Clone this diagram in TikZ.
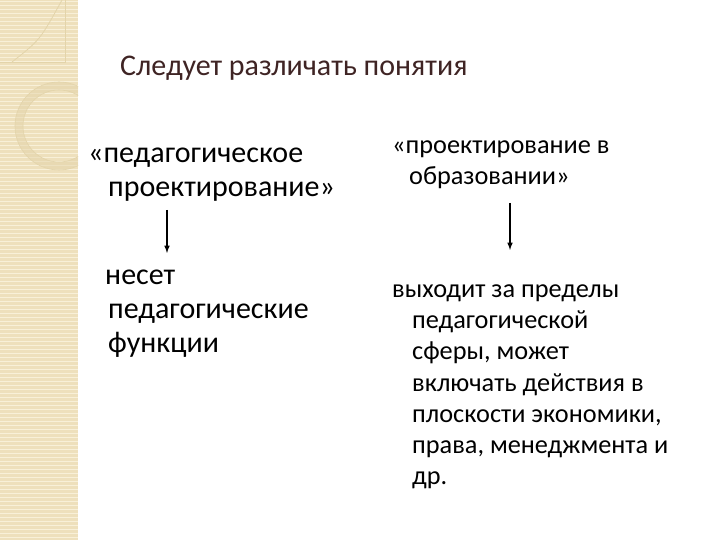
\documentclass[tikz,border=0pt]{standalone}
\usepackage{fontspec}
\setmainfont{Carlito}
\usetikzlibrary{positioning}
\definecolor{stripcol}{HTML}{EEE0BC}
\definecolor{stripline}{HTML}{F8F0D8}
\definecolor{ringcol}{HTML}{E3D4AA}
\definecolor{titlecol}{HTML}{3F2424}
\tikzset{
  leftblock/.style={anchor=base west,inner sep=0pt,align=left,font=\fontsize{30}{34}\selectfont},
  rightblock/.style={anchor=base west,inner sep=0pt,align=left,font=\fontsize{26.3}{31.3}\selectfont},
  arr/.style={-latex,line width=1.5pt}
}
\begin{document}
\begin{tikzpicture}[x=1pt,y=1pt]
\useasboundingbox[fill=white] (0,0) rectangle (720,540);
%left strip
\fill[stripcol] (0,0) rectangle (78,540);
\foreach \y in {2,6,...,538} % edit here for the stripes
\draw[stripline,line width=1pt] (0,\y) -- (78,\y);
\begin{scope}
\clip (0,0) rectangle (78,540);
\draw[ringcol,line width=0.8pt] (65,540) -- (65,478) -- (0,478);
\draw[ringcol,line width=0.8pt] (62,540) .. controls (40,500) .. (12,478);
\draw[ringcol,line width=8pt,opacity=0.5] (59,414) circle (40);
\draw[ringcol,line width=0.6pt] (59,414) circle (44) (59,414) circle (36);
\end{scope}
%title
\node[anchor=base west,inner sep=0pt,font=\fontsize{30}{34}\selectfont,text=titlecol] (title) at (120,464) {Следует различать понятия};
%left column (base = last line)
\node[leftblock] (ped) at (88,343) {«педагогическое\\\hspace*{20pt}проектирование»};
\node[leftblock] (nes) at (105,187) {несет\\\hspace*{3pt}педагогические\\\hspace*{3pt}функции};
%right column
\node[rightblock] (proj) at (392,355) {«проектирование в\\\hspace*{17pt}образовании»};
\node[rightblock] (vyh) at (392,55) {выходит за пределы\\\hspace*{20pt}педагогической\\\hspace*{20pt}сферы, может\\\hspace*{20pt}включать действия в\\\hspace*{20pt}плоскости экономики,\\\hspace*{20pt}права, менеджмента и\\\hspace*{20pt}др.};
%arrows
\draw[arr] ([xshift=79pt,yshift=-13pt]ped.base west) -- ([xshift=62pt,yshift=100pt]nes.base west);
\draw[arr] ([xshift=118pt,yshift=-18pt]proj.base west) -- ([xshift=118pt,yshift=235pt]vyh.base west);
\end{tikzpicture}
\end{document}
